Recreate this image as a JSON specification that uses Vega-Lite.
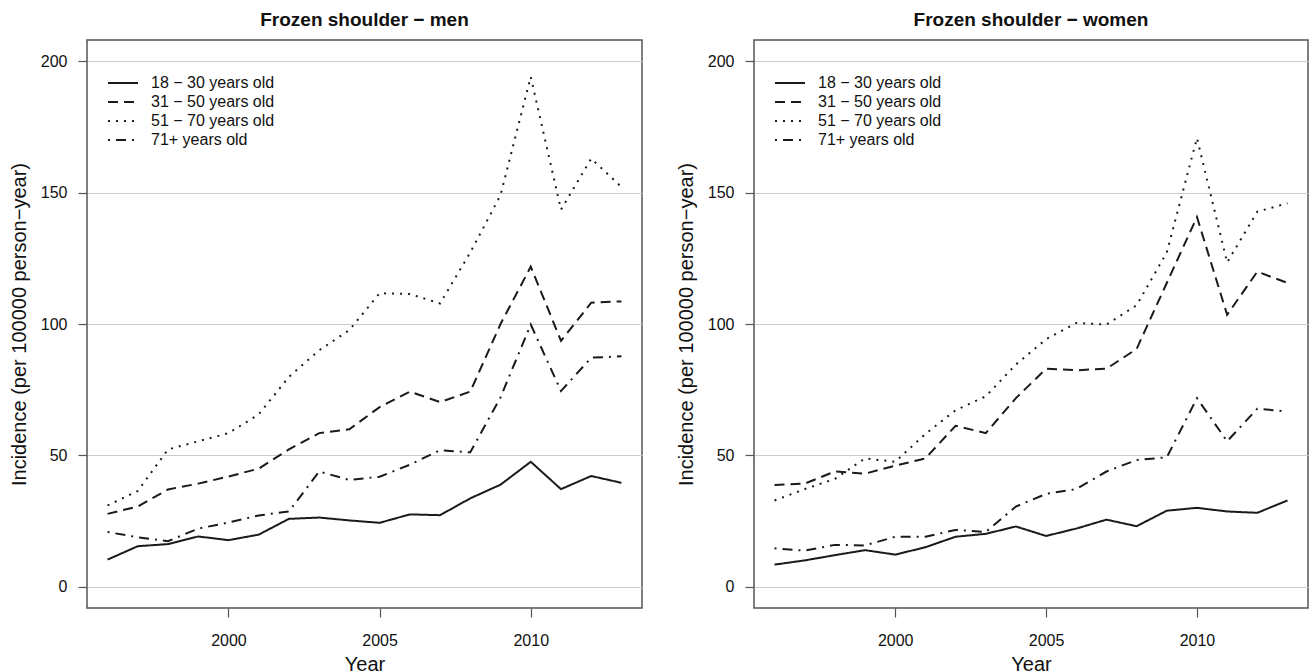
{
  "$schema": "https://vega.github.io/schema/vega-lite/v6.json",
  "padding": {"left": 8, "top": 10, "right": 0, "bottom": 0},
  "background": "white",
  "datasets": {
    "rows": [
      {"sex":"men","age":"18 − 30 years old","year":1996,"incidence":10.4},
      {"sex":"men","age":"18 − 30 years old","year":1997,"incidence":15.5},
      {"sex":"men","age":"18 − 30 years old","year":1998,"incidence":16.3},
      {"sex":"men","age":"18 − 30 years old","year":1999,"incidence":19.2},
      {"sex":"men","age":"18 − 30 years old","year":2000,"incidence":17.8},
      {"sex":"men","age":"18 − 30 years old","year":2001,"incidence":19.9},
      {"sex":"men","age":"18 − 30 years old","year":2002,"incidence":25.9},
      {"sex":"men","age":"18 − 30 years old","year":2003,"incidence":26.4},
      {"sex":"men","age":"18 − 30 years old","year":2004,"incidence":25.3},
      {"sex":"men","age":"18 − 30 years old","year":2005,"incidence":24.4},
      {"sex":"men","age":"18 − 30 years old","year":2006,"incidence":27.6},
      {"sex":"men","age":"18 − 30 years old","year":2007,"incidence":27.3},
      {"sex":"men","age":"18 − 30 years old","year":2008,"incidence":33.7},
      {"sex":"men","age":"18 − 30 years old","year":2009,"incidence":38.9},
      {"sex":"men","age":"18 − 30 years old","year":2010,"incidence":47.6},
      {"sex":"men","age":"18 − 30 years old","year":2011,"incidence":37.2},
      {"sex":"men","age":"18 − 30 years old","year":2012,"incidence":42.2},
      {"sex":"men","age":"18 − 30 years old","year":2013,"incidence":39.6},
      {"sex":"men","age":"31 − 50 years old","year":1996,"incidence":27.8},
      {"sex":"men","age":"31 − 50 years old","year":1997,"incidence":30.6},
      {"sex":"men","age":"31 − 50 years old","year":1998,"incidence":37.1},
      {"sex":"men","age":"31 − 50 years old","year":1999,"incidence":39.3},
      {"sex":"men","age":"31 − 50 years old","year":2000,"incidence":42.0},
      {"sex":"men","age":"31 − 50 years old","year":2001,"incidence":45.0},
      {"sex":"men","age":"31 − 50 years old","year":2002,"incidence":52.3},
      {"sex":"men","age":"31 − 50 years old","year":2003,"incidence":58.5},
      {"sex":"men","age":"31 − 50 years old","year":2004,"incidence":60.0},
      {"sex":"men","age":"31 − 50 years old","year":2005,"incidence":68.4},
      {"sex":"men","age":"31 − 50 years old","year":2006,"incidence":74.3},
      {"sex":"men","age":"31 − 50 years old","year":2007,"incidence":70.3},
      {"sex":"men","age":"31 − 50 years old","year":2008,"incidence":74.3},
      {"sex":"men","age":"31 − 50 years old","year":2009,"incidence":100.0},
      {"sex":"men","age":"31 − 50 years old","year":2010,"incidence":121.8},
      {"sex":"men","age":"31 − 50 years old","year":2011,"incidence":93.6},
      {"sex":"men","age":"31 − 50 years old","year":2012,"incidence":108.1},
      {"sex":"men","age":"31 − 50 years old","year":2013,"incidence":108.6},
      {"sex":"men","age":"51 − 70 years old","year":1996,"incidence":31.0},
      {"sex":"men","age":"51 − 70 years old","year":1997,"incidence":36.5},
      {"sex":"men","age":"51 − 70 years old","year":1998,"incidence":52.3},
      {"sex":"men","age":"51 − 70 years old","year":1999,"incidence":55.4},
      {"sex":"men","age":"51 − 70 years old","year":2000,"incidence":58.5},
      {"sex":"men","age":"51 − 70 years old","year":2001,"incidence":65.6},
      {"sex":"men","age":"51 − 70 years old","year":2002,"incidence":79.9},
      {"sex":"men","age":"51 − 70 years old","year":2003,"incidence":90.0},
      {"sex":"men","age":"51 − 70 years old","year":2004,"incidence":97.7},
      {"sex":"men","age":"51 − 70 years old","year":2005,"incidence":111.7},
      {"sex":"men","age":"51 − 70 years old","year":2006,"incidence":111.4},
      {"sex":"men","age":"51 − 70 years old","year":2007,"incidence":107.8},
      {"sex":"men","age":"51 − 70 years old","year":2008,"incidence":127.2},
      {"sex":"men","age":"51 − 70 years old","year":2009,"incidence":149.0},
      {"sex":"men","age":"51 − 70 years old","year":2010,"incidence":194.0},
      {"sex":"men","age":"51 − 70 years old","year":2011,"incidence":143.5},
      {"sex":"men","age":"51 − 70 years old","year":2012,"incidence":162.9},
      {"sex":"men","age":"51 − 70 years old","year":2013,"incidence":152.1},
      {"sex":"men","age":"71+ years old","year":1996,"incidence":20.9},
      {"sex":"men","age":"71+ years old","year":1997,"incidence":18.9},
      {"sex":"men","age":"71+ years old","year":1998,"incidence":17.4},
      {"sex":"men","age":"71+ years old","year":1999,"incidence":22.2},
      {"sex":"men","age":"71+ years old","year":2000,"incidence":24.5},
      {"sex":"men","age":"71+ years old","year":2001,"incidence":27.2},
      {"sex":"men","age":"71+ years old","year":2002,"incidence":28.7},
      {"sex":"men","age":"71+ years old","year":2003,"incidence":43.9},
      {"sex":"men","age":"71+ years old","year":2004,"incidence":40.7},
      {"sex":"men","age":"71+ years old","year":2005,"incidence":41.9},
      {"sex":"men","age":"71+ years old","year":2006,"incidence":46.5},
      {"sex":"men","age":"71+ years old","year":2007,"incidence":52.0},
      {"sex":"men","age":"71+ years old","year":2008,"incidence":51.2},
      {"sex":"men","age":"71+ years old","year":2009,"incidence":72.1},
      {"sex":"men","age":"71+ years old","year":2010,"incidence":99.8},
      {"sex":"men","age":"71+ years old","year":2011,"incidence":74.5},
      {"sex":"men","age":"71+ years old","year":2012,"incidence":87.2},
      {"sex":"men","age":"71+ years old","year":2013,"incidence":87.7},
      {"sex":"women","age":"18 − 30 years old","year":1996,"incidence":8.5},
      {"sex":"women","age":"18 − 30 years old","year":1997,"incidence":10.1},
      {"sex":"women","age":"18 − 30 years old","year":1998,"incidence":12.1},
      {"sex":"women","age":"18 − 30 years old","year":1999,"incidence":14.0},
      {"sex":"women","age":"18 − 30 years old","year":2000,"incidence":12.3},
      {"sex":"women","age":"18 − 30 years old","year":2001,"incidence":15.1},
      {"sex":"women","age":"18 − 30 years old","year":2002,"incidence":19.1},
      {"sex":"women","age":"18 − 30 years old","year":2003,"incidence":20.2},
      {"sex":"women","age":"18 − 30 years old","year":2004,"incidence":23.0},
      {"sex":"women","age":"18 − 30 years old","year":2005,"incidence":19.4},
      {"sex":"women","age":"18 − 30 years old","year":2006,"incidence":22.2},
      {"sex":"women","age":"18 − 30 years old","year":2007,"incidence":25.6},
      {"sex":"women","age":"18 − 30 years old","year":2008,"incidence":23.1},
      {"sex":"women","age":"18 − 30 years old","year":2009,"incidence":29.0},
      {"sex":"women","age":"18 − 30 years old","year":2010,"incidence":30.1},
      {"sex":"women","age":"18 − 30 years old","year":2011,"incidence":28.7},
      {"sex":"women","age":"18 − 30 years old","year":2012,"incidence":28.2},
      {"sex":"women","age":"18 − 30 years old","year":2013,"incidence":32.9},
      {"sex":"women","age":"31 − 50 years old","year":1996,"incidence":38.8},
      {"sex":"women","age":"31 − 50 years old","year":1997,"incidence":39.3},
      {"sex":"women","age":"31 − 50 years old","year":1998,"incidence":43.9},
      {"sex":"women","age":"31 − 50 years old","year":1999,"incidence":43.1},
      {"sex":"women","age":"31 − 50 years old","year":2000,"incidence":46.1},
      {"sex":"women","age":"31 − 50 years old","year":2001,"incidence":48.9},
      {"sex":"women","age":"31 − 50 years old","year":2002,"incidence":61.3},
      {"sex":"women","age":"31 − 50 years old","year":2003,"incidence":58.5},
      {"sex":"women","age":"31 − 50 years old","year":2004,"incidence":71.8},
      {"sex":"women","age":"31 − 50 years old","year":2005,"incidence":83.0},
      {"sex":"women","age":"31 − 50 years old","year":2006,"incidence":82.4},
      {"sex":"women","age":"31 − 50 years old","year":2007,"incidence":83.0},
      {"sex":"women","age":"31 − 50 years old","year":2008,"incidence":90.5},
      {"sex":"women","age":"31 − 50 years old","year":2009,"incidence":115.6},
      {"sex":"women","age":"31 − 50 years old","year":2010,"incidence":140.7},
      {"sex":"women","age":"31 − 50 years old","year":2011,"incidence":103.5},
      {"sex":"women","age":"31 − 50 years old","year":2012,"incidence":119.9},
      {"sex":"women","age":"31 − 50 years old","year":2013,"incidence":115.6},
      {"sex":"women","age":"51 − 70 years old","year":1996,"incidence":32.9},
      {"sex":"women","age":"51 − 70 years old","year":1997,"incidence":37.2},
      {"sex":"women","age":"51 − 70 years old","year":1998,"incidence":41.1},
      {"sex":"women","age":"51 − 70 years old","year":1999,"incidence":48.9},
      {"sex":"women","age":"51 − 70 years old","year":2000,"incidence":47.6},
      {"sex":"women","age":"51 − 70 years old","year":2001,"incidence":58.2},
      {"sex":"women","age":"51 − 70 years old","year":2002,"incidence":67.2},
      {"sex":"women","age":"51 − 70 years old","year":2003,"incidence":72.5},
      {"sex":"women","age":"51 − 70 years old","year":2004,"incidence":84.6},
      {"sex":"women","age":"51 − 70 years old","year":2005,"incidence":94.2},
      {"sex":"women","age":"51 − 70 years old","year":2006,"incidence":100.4},
      {"sex":"women","age":"51 − 70 years old","year":2007,"incidence":99.8},
      {"sex":"women","age":"51 − 70 years old","year":2008,"incidence":107.1},
      {"sex":"women","age":"51 − 70 years old","year":2009,"incidence":127.2},
      {"sex":"women","age":"51 − 70 years old","year":2010,"incidence":170.7},
      {"sex":"women","age":"51 − 70 years old","year":2011,"incidence":123.4},
      {"sex":"women","age":"51 − 70 years old","year":2012,"incidence":142.7},
      {"sex":"women","age":"51 − 70 years old","year":2013,"incidence":145.9},
      {"sex":"women","age":"71+ years old","year":1996,"incidence":14.7},
      {"sex":"women","age":"71+ years old","year":1997,"incidence":13.8},
      {"sex":"women","age":"71+ years old","year":1998,"incidence":16.0},
      {"sex":"women","age":"71+ years old","year":1999,"incidence":15.8},
      {"sex":"women","age":"71+ years old","year":2000,"incidence":19.1},
      {"sex":"women","age":"71+ years old","year":2001,"incidence":19.1},
      {"sex":"women","age":"71+ years old","year":2002,"incidence":21.7},
      {"sex":"women","age":"71+ years old","year":2003,"incidence":20.9},
      {"sex":"women","age":"71+ years old","year":2004,"incidence":30.6},
      {"sex":"women","age":"71+ years old","year":2005,"incidence":35.4},
      {"sex":"women","age":"71+ years old","year":2006,"incidence":37.2},
      {"sex":"women","age":"71+ years old","year":2007,"incidence":43.9},
      {"sex":"women","age":"71+ years old","year":2008,"incidence":48.3},
      {"sex":"women","age":"71+ years old","year":2009,"incidence":49.3},
      {"sex":"women","age":"71+ years old","year":2010,"incidence":71.8},
      {"sex":"women","age":"71+ years old","year":2011,"incidence":55.4},
      {"sex":"women","age":"71+ years old","year":2012,"incidence":67.8},
      {"sex":"women","age":"71+ years old","year":2013,"incidence":66.7}
    ]
  },
  "data": {"name": "rows"},
  "spacing": 32,
  "resolve": {"legend": {"strokeDash": "independent"}},
  "hconcat": [
    {
      "title": "Frozen shoulder − men",
      "width": 555,
      "height": 568,
      "transform": [{"filter": "datum.sex === 'men'"}],
      "mark": {"type": "line", "color": "#1a1a1a", "strokeWidth": 2},
      "encoding": {
        "x": {"field": "year", "type": "quantitative", "title": "Year",
              "scale": {"domain": [1995.32, 2013.68], "nice": false, "zero": false},
              "axis": {"values": [2000, 2005, 2010], "format": "d", "grid": false}},
        "y": {"field": "incidence", "type": "quantitative", "title": "Incidence (per 100000 person−year)",
              "scale": {"domain": [-8, 208], "nice": false, "zero": false},
              "axis": {"values": [0, 50, 100, 150, 200], "grid": true}},
        "strokeDash": {"field": "age", "type": "nominal",
              "scale": {"domain": ["18 − 30 years old", "31 − 50 years old", "51 − 70 years old", "71+ years old"],
                        "range": [[1, 0], [10, 6], [2, 6], [2, 6, 10, 6]]},
              "legend": {"title": null, "orient": "none", "legendX": 25, "legendY": 32}}
      }
    },
    {
      "title": "Frozen shoulder − women",
      "width": 554,
      "height": 568,
      "transform": [{"filter": "datum.sex === 'women'"}],
      "mark": {"type": "line", "color": "#1a1a1a", "strokeWidth": 2},
      "encoding": {
        "x": {"field": "year", "type": "quantitative", "title": "Year",
              "scale": {"domain": [1995.32, 2013.68], "nice": false, "zero": false},
              "axis": {"values": [2000, 2005, 2010], "format": "d", "grid": false}},
        "y": {"field": "incidence", "type": "quantitative", "title": "Incidence (per 100000 person−year)",
              "scale": {"domain": [-8, 208], "nice": false, "zero": false},
              "axis": {"values": [0, 50, 100, 150, 200], "grid": true}},
        "strokeDash": {"field": "age", "type": "nominal",
              "scale": {"domain": ["18 − 30 years old", "31 − 50 years old", "51 − 70 years old", "71+ years old"],
                        "range": [[1, 0], [10, 6], [2, 6], [2, 6, 10, 6]]},
              "legend": {"title": null, "orient": "none", "legendX": 25, "legendY": 32}}
      }
    }
  ],
  "config": {
    "font": "Liberation Sans",
    "view": {"stroke": "#555555", "strokeWidth": 1.5},
    "axis": {
      "domain": false,
      "tickColor": "#555555",
      "tickSize": 9,
      "tickWidth": 1.2,
      "labelFontSize": 16,
      "labelColor": "#111111",
      "labelFlush": false,
      "titleFontSize": 20,
      "titleFontWeight": "normal",
      "titleColor": "#111111",
      "gridColor": "#cccccc",
      "gridWidth": 1
    },
    "axisX": {"labelPadding": 15, "titlePadding": 6},
    "axisY": {"labelPadding": 11, "titlePadding": 11},
    "title": {"fontSize": 19, "fontWeight": "bold", "color": "#111111", "baseline": "alphabetic", "offset": 10},
    "legend": {
      "symbolType": "M-1.5,0H1.5",
      "symbolSize": 400,
      "symbolStrokeWidth": 2,
      "symbolStrokeColor": "#1a1a1a",
      "labelFontSize": 16,
      "labelColor": "#111111",
      "labelOffset": 17,
      "rowPadding": 0,
      "padding": 0
    }
  }
}
